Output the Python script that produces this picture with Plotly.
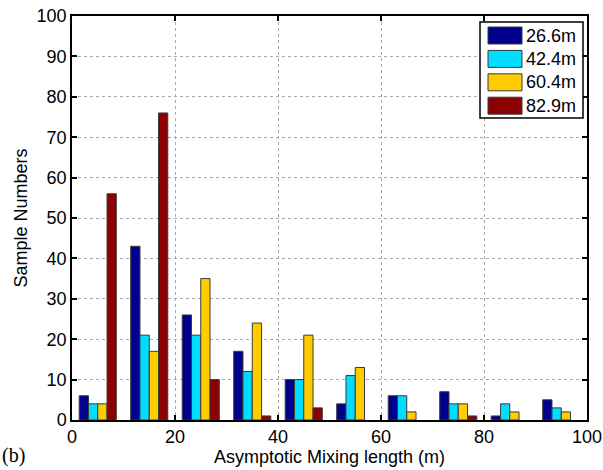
import plotly.graph_objects as go

# Bin centres of the mixing-length histogram (m)
bin_centres = [5, 15, 25, 35, 45, 55, 65, 75, 85, 95]

# Sample counts per bin for each measurement height
series_names = ["26.6m", "42.4m", "60.4m", "82.9m"]
counts_26_6 = [6, 43, 26, 17, 10, 4, 6, 7, 1, 5]
counts_42_4 = [4, 21, 21, 12, 10, 11, 6, 4, 4, 3]
counts_60_4 = [4, 17, 35, 24, 21, 13, 2, 4, 2, 2]
counts_82_9 = [56, 76, 10, 1, 3, 0, 0, 1, 0, 0]

series_values = [counts_26_6, counts_42_4, counts_60_4, counts_82_9]
series_colors = ["#00008F", "#00DDFF", "#FFCC00", "#8B0000"]

x_ticks = [0, 20, 40, 60, 80, 100]
y_ticks = list(range(0, 101, 10))

fig = go.Figure()
for name, vals, col in zip(series_names, series_values, series_colors):
    # empty bins get no outline so they leave no stroke on the baseline
    edge_widths = [1 if v > 0 else 0 for v in vals]
    fig.add_trace(go.Bar(
        x=bin_centres, y=vals, name=name,
        marker=dict(color=col, line=dict(color="#3a3a3a", width=edge_widths)),
        showlegend=False,
    ))

font_family = "Liberation Sans, Arial, sans-serif"

axis_common = dict(
    automargin=False,
    showline=True, linecolor="black", linewidth=1.5, mirror="ticks",
    ticks="inside", ticklen=5, tickwidth=1.5, tickcolor="black",
    showgrid=True, gridcolor="#a8a8a8", griddash="dot", gridwidth=1,
    zeroline=False,
    tickfont=dict(family=font_family, size=18, color="black"),
)

fig.update_layout(
    width=603, height=470,
    margin=dict(l=72, r=16, t=16, b=50),
    paper_bgcolor="white", plot_bgcolor="white",
    barmode="group", bargap=0.28, bargroupgap=0,
    xaxis=dict(range=[0, 100], tickvals=x_ticks, **axis_common,
               title=dict(text="Asymptotic Mixing length (m)", standoff=2,
                          font=dict(family=font_family, size=18, color="black"))),
    yaxis=dict(range=[0, 100], tickvals=y_ticks, **axis_common,
               title=dict(text="Sample Numbers", standoff=4,
                          font=dict(family=font_family, size=18, color="black"))),
)

# Legend box drawn in plot-area pixels converted to paper coordinates
plot_l, plot_r, plot_t, plot_b = 72, 587, 16, 420


def px_x(p):
    return (p - plot_l) / (plot_r - plot_l)


def px_y(p):
    return (plot_b - p) / (plot_b - plot_t)


fig.add_shape(type="rect", xref="paper", yref="paper",
              x0=px_x(480), x1=px_x(583), y0=px_y(118), y1=px_y(22),
              fillcolor="white", line=dict(color="black", width=1.5), layer="above")
for i, (name, col) in enumerate(zip(series_names, series_colors)):
    top = 27 + i * 23.4
    fig.add_shape(type="rect", xref="paper", yref="paper",
                  x0=px_x(488), x1=px_x(522), y0=px_y(top + 17), y1=px_y(top),
                  fillcolor=col, line=dict(color="#3a3a3a", width=1), layer="above")
    fig.add_annotation(xref="paper", yref="paper", x=px_x(524), y=px_y(top + 8.5),
                       text=name, showarrow=False, xanchor="left", yanchor="middle",
                       font=dict(family=font_family, size=18, color="black"))

# Panel label
fig.add_annotation(xref="paper", yref="paper", x=px_x(0), y=px_y(469),
                   text="(b)", showarrow=False, xanchor="left", yanchor="bottom",
                   font=dict(family="Liberation Serif, Times New Roman, serif", size=20, color="black"))

fig.write_html("out.html")
